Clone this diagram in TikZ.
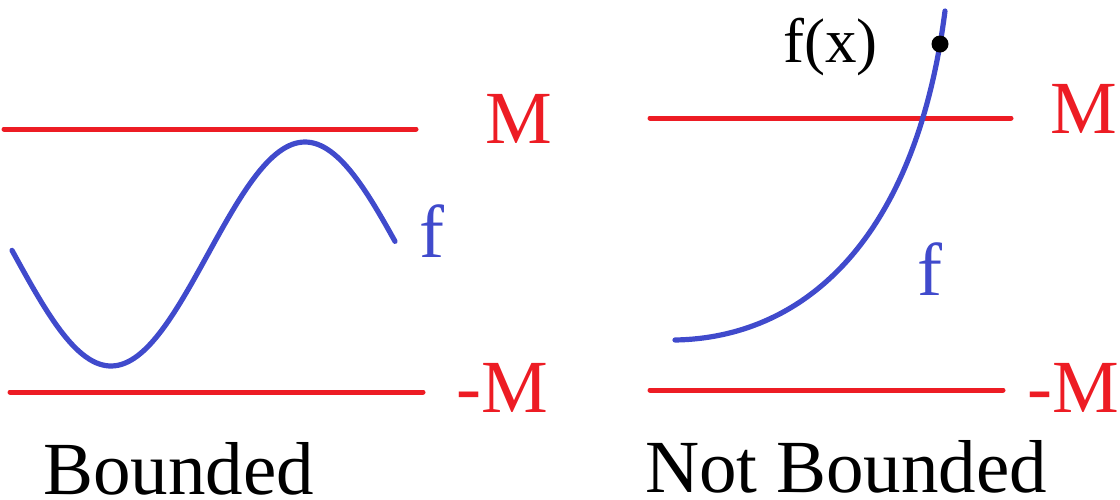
\documentclass[tikz,border=0pt]{standalone}
\usepackage{fontspec}
\setmainfont{LiberationSerif-Regular.ttf}
\definecolor{bred}{RGB}{237,28,36}
\definecolor{bblue}{RGB}{64,74,204}
\begin{document}
\begin{tikzpicture}[x=1pt,y=-1pt,
  redline/.style={draw=bred,line width=5pt,line cap=round},
  blueline/.style={draw=bblue,line width=5.2pt,line cap=round},
  lab/.style={inner sep=0pt,anchor=base west,font=\fontsize{75}{80}\selectfont},
  redlab/.style={lab,text=bred},
  bluelab/.style={lab,text=bblue}]
\useasboundingbox (0,0) rectangle (1120,499);
% left panel
\coordinate (l1a) at (4,129);
\coordinate (l1b) at (416,129);
\coordinate (l2a) at (10,392);
\coordinate (l2b) at (423,392);
\draw[redline] (l1a) -- (l1b);
\draw[redline] (l2a) -- (l2b);
\draw[blueline] plot[domain=12:395,samples=120,smooth] (\x,{254+112*cos(0.92784*(\x-111))});
\node[redlab] (mL) at (485,143) {M};
\node[redlab] (nmL) at (456,412) {-M};
\node[bluelab] (fL) at (419,257) {f};
\node[lab] (bnd) at (43,494) {Bounded};
% right panel
\coordinate (r1a) at (650,118);
\coordinate (r1b) at (1011,118);
\coordinate (r2a) at (650,390);
\coordinate (r2b) at (1003,390);
\draw[redline] (r1a) -- (r1b);
\draw[redline] (r2a) -- (r2b);
\coordinate (es) at (675,340);
\coordinate (ee) at (945,11);
\draw[blueline] (es) .. controls (800,338) and (915,245) .. (ee);
\coordinate (pt) at (940,44);
\fill (pt) circle (8.5);
\node[inner sep=0pt,anchor=base west,font=\fontsize{63}{70}\selectfont] (fx) at (783,62) {f(x)};
\node[redlab] (mR) at (1050,133) {M};
\node[redlab] (nmR) at (1027,412) {-M};
\node[bluelab] (fR) at (917,295) {f};
\node[lab] (nbnd) at (645,492) {Not Bounded};
\end{tikzpicture}
\end{document}
